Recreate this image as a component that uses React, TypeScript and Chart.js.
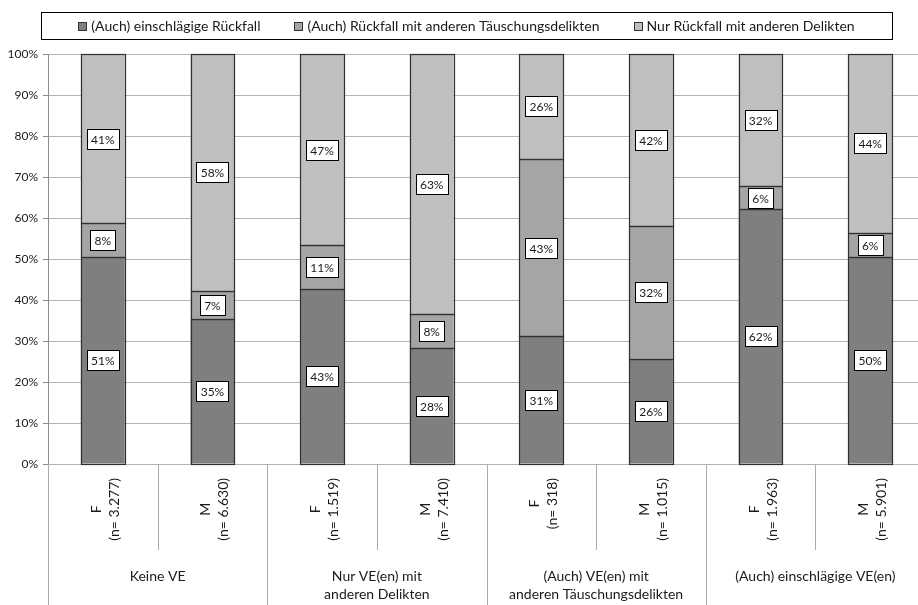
import React, { useEffect, useRef } from 'react';
import { Chart, registerables } from 'chart.js';

Chart.register(...registerables);

const sexLabels = ['F', 'M', 'F', 'M', 'F', 'M', 'F', 'M'];
const nLabels = ['(n= 3.277)', '(n= 6.630)', '(n= 1.519)', '(n= 7.410)', '(n= 318)', '(n= 1.015)', '(n= 1.963)', '(n= 5.901)'];
const groupLabels = [
  ['Keine VE'],
  ['Nur VE(en) mit', 'anderen Delikten'],
  ['(Auch) VE(en) mit', 'anderen Täuschungsdelikten'],
  ['(Auch) einschlägige VE(en)'],
];
const seriesNames = [
  '(Auch) einschlägige Rückfall',
  '(Auch) Rückfall mit anderen Täuschungsdelikten',
  'Nur Rückfall mit anderen Delikten',
];
const einschlaegig = [50.6, 35.4, 42.8, 28.3, 31.1, 25.7, 62.1, 50.4];
const taeuschung = [8.1, 6.9, 10.5, 8.3, 43.3, 32.3, 5.7, 6.0];
const andere = [41.3, 57.7, 46.7, 63.4, 25.6, 42.0, 32.2, 43.6];
const seriesColors = ['#7f7f7f', '#a5a5a5', '#bfbfbf'];

const FONT = 'Lato, "DejaVu Sans", sans-serif';
const TEXT = '#1a1a1a';

const decorPlugin = {
  id: 'decor',
  afterDatasetsDraw(chart: any) {
    const ctx = chart.ctx;
    ctx.save();
    // segment outlines
    ctx.strokeStyle = '#303030';
    ctx.lineWidth = 1.2;
    chart.data.datasets.forEach((ds: any, di: number) => {
      const meta = chart.getDatasetMeta(di);
      meta.data.forEach((el: any) => {
        const l = Math.round(el.x - el.width / 2) + 0.5;
        const r = Math.round(el.x + el.width / 2) + 0.5;
        const t = Math.round(el.y) + 0.5;
        const b = Math.round(el.base) + 0.5;
        ctx.strokeRect(l, t, r - l, b - t);
      });
    });

    ctx.font = `12px ${FONT}`;
    ctx.textAlign = 'center';
    ctx.textBaseline = 'middle';
    chart.data.datasets.forEach((ds: any, di: number) => {
      const meta = chart.getDatasetMeta(di);
      meta.data.forEach((el: any, i: number) => {
        const v = ds.data[i];
        const txt = Math.round(v) + '%';
        const cx = el.x;
        const cy = (el.y + el.base) / 2;
        const tw = ctx.measureText(txt).width;
        const w = Math.round(tw + 8);
        const h = 20;
        const x0 = Math.round(cx - w / 2) + 0.5;
        const y0 = Math.round(cy - h / 2) + 0.5;
        ctx.fillStyle = '#ffffff';
        ctx.fillRect(x0, y0, w, h);
        ctx.strokeStyle = '#000000';
        ctx.lineWidth = 1;
        ctx.strokeRect(x0, y0, w, h);
        ctx.fillStyle = TEXT;
        ctx.fillText(txt, cx, cy + 1);
      });
    });
    ctx.restore();
  },
  afterDraw(chart: any) {
    const ctx = chart.ctx;
    const area = chart.chartArea;
    const xs = chart.scales.x;
    const H = chart.height;
    ctx.save();

    // separator lines below the axis
    const n = sexLabels.length;
    const centers = sexLabels.map((_, i) => xs.getPixelForValue(i));
    const catW = n > 1 ? centers[1] - centers[0] : area.width;
    ctx.strokeStyle = '#ababab';
    ctx.lineWidth = 1;
    for (let i = 0; i <= n; i++) {
      const bx = Math.round(area.left + i * catW) + 0.5;
      const bottom = i % 2 === 0 ? H : 550;
      ctx.beginPath();
      ctx.moveTo(bx, area.bottom);
      ctx.lineTo(bx, bottom);
      ctx.stroke();
    }

    // rotated category labels
    ctx.font = `14px ${FONT}`;
    ctx.fillStyle = TEXT;
    ctx.textBaseline = 'middle';
    ctx.textAlign = 'center';
    for (let i = 0; i < n; i++) {
      const lines = [sexLabels[i], nLabels[i]];
      const bw = Math.max(...lines.map((l) => ctx.measureText(l).width));
      const cy = area.bottom + 14 + bw / 2;
      ctx.save();
      ctx.translate(centers[i] + 2.5, cy);
      ctx.rotate(-Math.PI / 2);
      ctx.fillText(lines[0], 0, -9);
      ctx.fillText(lines[1], 0, 9);
      ctx.restore();
    }

    // group labels
    groupLabels.forEach((g, gi) => {
      const gx = (centers[gi * 2] + centers[gi * 2 + 1]) / 2;
      g.forEach((line, li) => {
        ctx.fillText(line, gx, 576 + li * 18);
      });
    });

    // legend
    const boxL = 41, boxR = 892, boxT = 12, boxB = 39;
    ctx.strokeStyle = '#000000';
    ctx.lineWidth = 1;
    ctx.strokeRect(boxL + 0.5, boxT + 0.5, boxR - boxL, boxB - boxT);
    ctx.font = `14px ${FONT}`;
    const sq = 9, sqGap = 4, gap = 34;
    const widths = seriesNames.map((s) => sq + sqGap + ctx.measureText(s).width);
    const total = widths.reduce((a, b) => a + b, 0) + gap * (widths.length - 1);
    let x = (boxL + boxR) / 2 - total / 2;
    const cyL = (boxT + boxB) / 2 + 0.5;
    ctx.textAlign = 'left';
    seriesNames.forEach((s, i) => {
      const sx = Math.round(x) + 0.5;
      const sy = Math.round(cyL - sq / 2) + 0.5;
      ctx.fillStyle = seriesColors[i];
      ctx.fillRect(sx, sy, sq - 1, sq - 1);
      ctx.strokeStyle = '#333333';
      ctx.strokeRect(sx, sy, sq - 1, sq - 1);
      ctx.fillStyle = TEXT;
      ctx.fillText(s, x + sq + sqGap, cyL);
      x += widths[i] + gap;
    });

    ctx.restore();
  },
};

export default function App() {
  const ref = useRef<HTMLCanvasElement | null>(null);
  useEffect(() => {
    if (!ref.current) return;
    const values = [einschlaegig, taeuschung, andere];
    const chart = new Chart(ref.current, {
      type: 'bar',
      data: {
        labels: sexLabels.map((s, i) => s + ' ' + nLabels[i]),
        datasets: seriesNames.map((name, i) => ({
          label: name,
          data: values[i],
          backgroundColor: seriesColors[i],
          borderWidth: 0,
          inflateAmount: 0,
          categoryPercentage: 1,
          barPercentage: 0.4,
        })),
      },
      options: {
        responsive: false,
        animation: false,
        layout: { padding: { top: 54, bottom: 141, left: 0, right: 0 } },
        plugins: {
          legend: { display: false },
          tooltip: { enabled: false },
          title: { display: false },
        },
        scales: {
          x: {
            stacked: true,
            display: false,
          },
          y: {
            stacked: true,
            min: 0,
            max: 100,
            ticks: {
              stepSize: 10,
              callback: (v: any) => v + '%',
              font: { family: FONT, size: 12 },
              color: TEXT,
              padding: 5,
            },
            grid: {
              color: '#b4b4b4',
              lineWidth: 1,
              tickLength: 5,
              tickColor: '#8c8c8c',
            },
            border: { display: true, color: '#8c8c8c', width: 1 },
            afterFit: (scale: any) => {
              scale.width = 48;
            },
          },
        },
      },
      plugins: [decorPlugin],
    });
    return () => chart.destroy();
  }, []);

  return (
    <div style={{ position: 'fixed', left: 0, top: 0, width: 918, height: 605, overflow: 'hidden', background: '#fff' }}>
      <canvas ref={ref} width={925} height={605} style={{ display: 'block' }} />
    </div>
  );
}
